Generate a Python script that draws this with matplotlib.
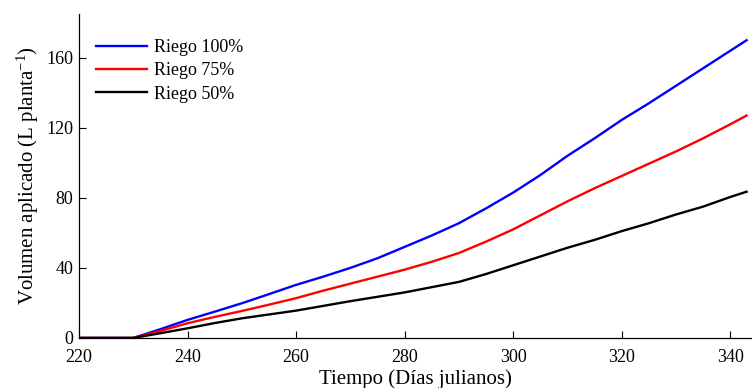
import matplotlib
matplotlib.use("Agg")
import matplotlib.pyplot as plt

days = [220, 230, 235, 240, 245, 250, 255, 260, 265, 270, 275, 280, 285, 290,
        295, 300, 305, 310, 315, 320, 325, 330, 335, 340, 343]
riego100 = [0, 0, 5, 10.3, 15, 19.8, 25, 30.3, 35, 40, 45.5, 52, 58.5, 65.5,
            74, 83, 93, 104, 114, 124.5, 134, 144, 154, 164, 170]
riego75 = [0, 0, 4, 8.4, 12, 15.4, 19, 22.7, 27, 31, 35, 39, 43.5, 48.5,
           55, 62, 70, 78, 85.5, 92.5, 99.5, 106.5, 114, 122, 127]
riego50 = [0, 0, 2.7, 5.5, 8.5, 11.2, 13.4, 15.6, 18.3, 21, 23.5, 26, 29, 32,
           36.5, 41.5, 46.5, 51.5, 56, 61, 65.5, 70.5, 75, 80.5, 83.5]
series_labels = ["Riego 100%", "Riego 75%", "Riego 50%"]
xticks = [220, 240, 260, 280, 300, 320, 340]
yticks = [0, 40, 80, 120, 160]

plt.rcParams['font.family'] = ['Liberation Serif', 'DejaVu Serif']
plt.rcParams['mathtext.fontset'] = 'custom'
plt.rcParams['mathtext.rm'] = 'Liberation Serif'
plt.rcParams['mathtext.it'] = 'Liberation Serif:italic'

fig = plt.figure(figsize=(7.52, 3.88), dpi=100)
ax = fig.add_axes([0.105, 0.129, 0.895, 0.835])

colors = ['#0000ff', '#ff0000', '#000000']
for vals, lab, c in zip([riego100, riego75, riego50], series_labels, colors):
    ax.plot(days, vals, color=c, lw=1.7, label=lab)

ax.set_xlim(220, 344)
ax.set_ylim(0, 185)
ax.set_xticks(xticks)
ax.set_yticks(yticks)
ax.tick_params(direction='in', length=5, width=0.8, labelsize=13)
ax.tick_params(axis='x', pad=8)
ax.tick_params(axis='y', pad=4)
for s in ['top', 'right']:
    ax.spines[s].set_visible(False)
ax.spines['left'].set_linewidth(0.9)
ax.spines['bottom'].set_linewidth(0.9)

ax.set_xlabel("Tiempo (Días julianos)", fontsize=15, labelpad=2)
ax.set_ylabel(r"Volumen aplicado (L planta$^{\mathrm{-1}}$)", fontsize=15, labelpad=4)

leg = ax.legend(loc='upper left', frameon=False, fontsize=13, handlelength=2.8,
                handletextpad=0.4, labelspacing=0.35, borderaxespad=0.0,
                bbox_to_anchor=(0.015, 0.945))

fig.savefig("out.png", dpi=100)
